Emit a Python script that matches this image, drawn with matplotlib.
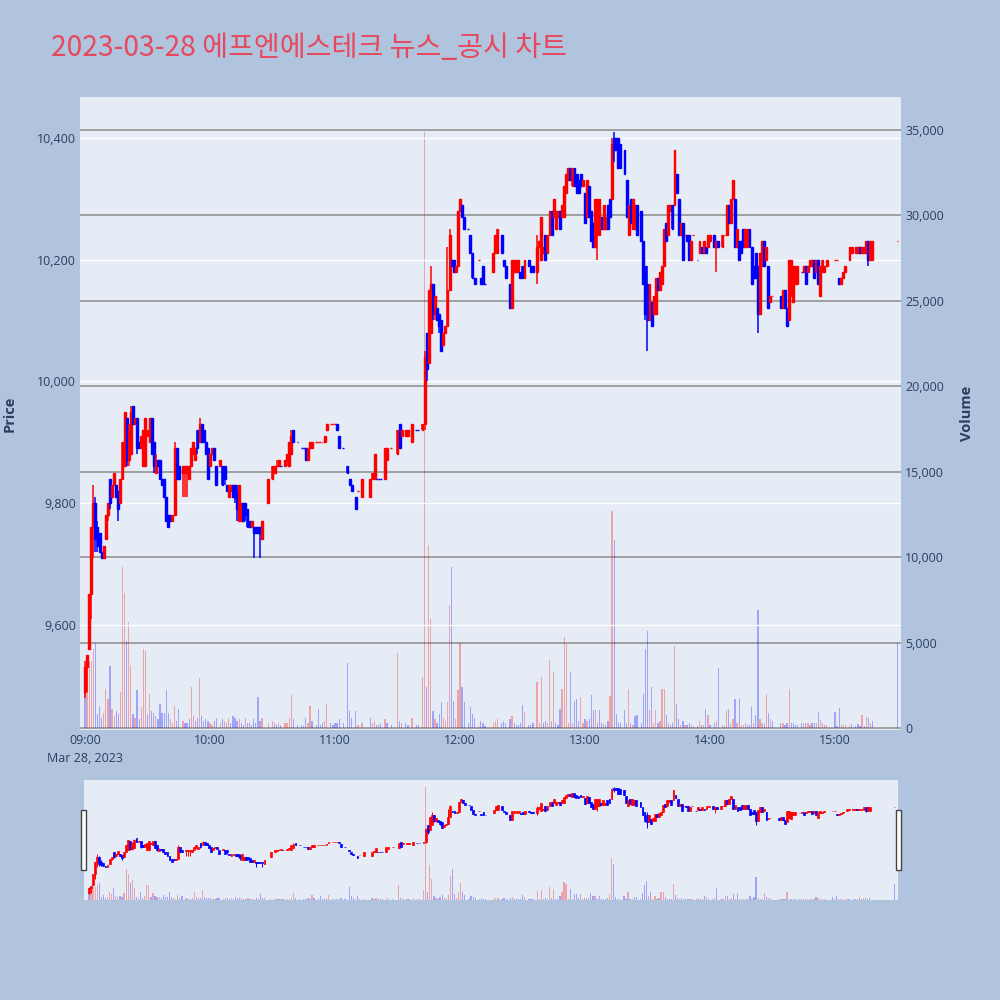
import numpy as np
import pandas as pd
import matplotlib.pyplot as plt
import matplotlib.dates as mdates
from matplotlib.patches import Rectangle
from matplotlib.ticker import StrMethodFormatter

# minute offset from 09:00 for each traded minute (390 = 15:30 closing auction)
minutes = (list(range(0, 46)) + list(range(47, 64))
           + list(range(65, 86)) + [88, 90, 91, 92, 93, 94, 96, 97, 98, 99, 100, 102, 104, 105, 106, 107, 108, 109,
                                    111, 112, 113, 114, 115, 116, 118, 119, 120, 121, 122, 124, 126, 127, 128, 130, 131]
           + [133, 137, 138, 139, 140, 141, 142, 144, 145, 147, 150, 151, 152, 154, 155, 157, 159, 160]
           + list(range(162, 183)) + [184, 185, 186, 187, 189, 190, 191, 192, 196, 197, 198]
           + [200, 201, 202] + list(range(204, 212)) + [213, 214, 215] + list(range(217, 258)) + list(range(259, 266))
           + list(range(267, 293)) + list(range(294, 301)) + [302, 303, 304] + list(range(306, 331))
           + list(range(334, 343)) + list(range(344, 357)) + list(range(360, 366)) + [367, 368]
           + list(range(370, 379)) + [390])

opens = [
    # 09:00 - 10:03
    9490, 9530, 9560, 9650, 9760, 9800, 9760, 9750, 9720, 9710,
    9740, 9780, 9840, 9810, 9830, 9830, 9820, 9800, 9840, 9860,
    9940, 9870, 9880, 9960, 9930, 9940, 9900, 9890, 9860, 9860,
    9910, 9900, 9940, 9900, 9850, 9870, 9870, 9840, 9840, 9810,
    9780, 9780, 9770, 9780, 9890, 9860,
    9850, 9850, 9850, 9840, 9860, 9880, 9870,
    9920, 9900, 9930, 9920, 9900, 9890, 9860, 9880, 9890, 9860,
    # 10:05 - 11:11
    9860, 9860, 9860, 9830, 9810, 9820, 9830, 9830, 9820, 9770,
    9770, 9800, 9800, 9790, 9770, 9760, 9760, 9760, 9760, 9760,
    9740, 9800, 9840, 9850, 9860, 9860, 9860,
    9860, 9870, 9860, 9880, 9920,
    9900, 9890, 9890, 9890, 9870, 9890, 9890,
    9900, 9900, 9900, 9900, 9900, 9920,
    9930, 9930, 9930, 9930, 9910,
    9890, 9860, 9840, 9830, 9810, 9820,
    # 11:13 - 12:18
    9810, 9810, 9840, 9840, 9840, 9840, 9840,
    9840, 9870, 9890, 9880, 9930, 9910,
    9910, 9910, 9900, 9920, 9920,
    9920, 9930, 10080, 10030, 10080, 10160, 10110, 10120, 10110, 10100,
    10060, 10080, 10090, 10150, 10200, 10200, 10180, 10190, 10280, 10290, 10270,
    10250, 10240, 10210, 10170,
    10200, 10170, 10190, 10160,
    10180, 10210, 10210,
    # 12:20 - 13:25
    10240, 10200, 10190,
    10160, 10120, 10180, 10180, 10180, 10180, 10190, 10170,
    10200, 10190, 10190,
    10180, 10220, 10200, 10210, 10240, 10210, 10240, 10280, 10270, 10250,
    10270, 10280, 10270, 10270, 10310, 10330, 10350, 10320, 10350, 10340,
    10330, 10340, 10320, 10310, 10270, 10320, 10280, 10260, 10220, 10240,
    10240, 10270, 10250, 10250, 10290, 10300, 10300, 10400, 10400, 10400, 10390,
    10380, 10330, 10240, 10300, 10250, 10250, 10290,
    # 13:27 - 14:30
    10280, 10230, 10190, 10160, 10100, 10130, 10110, 10110, 10170, 10150,
    10160, 10190, 10260, 10240, 10280, 10290, 10290, 10340, 10300, 10240,
    10260, 10240, 10240, 10240, 10200, 10240,
    10200, 10210, 10220, 10210, 10220, 10220, 10230,
    10240, 10220, 10230,
    10220, 10240, 10240, 10290, 10260, 10300, 10300, 10220, 10230, 10230,
    10250, 10220, 10220, 10250, 10220, 10190, 10210, 10190, 10110, 10190,
    10230, 10200, 10190, 10130, 10140,
    # 14:34 - 15:30
    10140, 10120, 10150, 10120, 10100, 10140, 10130, 10160, 10160,
    10180, 10180, 10190, 10180, 10190, 10190, 10200, 10180, 10200, 10140, 10180, 10180, 10190,
    10200, 10200, 10170, 10160, 10170, 10180,
    10200, 10210,
    10210, 10210, 10220, 10210, 10210, 10210, 10230, 10200, 10200,
    10230,
]

highs = [
    9540, 9550, 9650, 9760, 9830, 9810, 9770, 9750, 9720, 9730,
    9780, 9800, 9840, 9830, 9850, 9830, 9820, 9840, 9900, 9950,
    9940, 9930, 9960, 9960, 9940, 9940, 9900, 9910, 9920, 9940,
    9920, 9940, 9940, 9900, 9880, 9870, 9870, 9840, 9840, 9810,
    9780, 9780, 9780, 9900, 9890, 9860,
    9860, 9860, 9860, 9860, 9890, 9900, 9890,
    9920, 9940, 9930, 9920, 9900, 9890, 9880, 9890, 9890, 9860,
    9870, 9860, 9860, 9830, 9830, 9830, 9830, 9830, 9830, 9830,
    9800, 9800, 9800, 9790, 9770, 9770, 9760, 9760, 9760, 9760,
    9770, 9840, 9860, 9860, 9870, 9870, 9860,
    9870, 9880, 9900, 9920, 9920,
    9900, 9890, 9890, 9890, 9890, 9900, 9900,
    9900, 9900, 9900, 9900, 9910, 9930,
    9930, 9930, 9930, 9930, 9910,
    9890, 9860, 9840, 9830, 9810, 9820,
    9840, 9840, 9850, 9880, 9840, 9840, 9840,
    9890, 9890, 9890, 9920, 9930, 9920,
    9920, 9920, 9930, 9920, 9920,
    9930, 10050, 10080, 10150, 10190, 10160, 10140, 10120, 10110, 10100,
    10080, 10090, 10220, 10250, 10200, 10200, 10190, 10280, 10300, 10290, 10270,
    10250, 10240, 10210, 10170,
    10200, 10170, 10190, 10160,
    10210, 10240, 10250,
    10240, 10200, 10190,
    10160, 10200, 10200, 10200, 10200, 10180, 10190, 10200,
    10200, 10190, 10190,
    10240, 10230, 10270, 10220, 10240, 10240, 10280, 10280, 10300, 10280,
    10280, 10280, 10290, 10320, 10340, 10350, 10350, 10350, 10350, 10340,
    10330, 10340, 10330, 10310, 10330, 10320, 10280, 10260, 10300, 10300,
    10300, 10270, 10290, 10270, 10290, 10300, 10400, 10410, 10400, 10400, 10390,
    10380, 10330, 10290, 10300, 10300, 10290, 10290,
    10280, 10230, 10190, 10190, 10160, 10130, 10140, 10170, 10170, 10180,
    10190, 10250, 10260, 10290, 10290, 10290, 10380, 10340, 10300, 10260,
    10260, 10240, 10240, 10240, 10230, 10240,
    10200, 10230, 10220, 10230, 10220, 10240, 10240,
    10240, 10230, 10230,
    10240, 10240, 10290, 10290, 10300, 10330, 10300, 10250, 10230, 10230,
    10250, 10250, 10250, 10250, 10220, 10190, 10210, 10190, 10210, 10230,
    10230, 10220, 10190, 10140, 10140,
    10140, 10150, 10150, 10120, 10200, 10200, 10190, 10190, 10190,
    10180, 10190, 10190, 10190, 10200, 10200, 10200, 10200, 10200, 10190, 10200, 10190, 10200,
    10200, 10200, 10170, 10170, 10180, 10190,
    10220, 10220,
    10220, 10220, 10220, 10220, 10220, 10230, 10230, 10230, 10230,
    10230,
]

lows = [
    9480, 9490, 9560, 9610, 9710, 9720, 9720, 9720, 9710, 9710,
    9740, 9770, 9790, 9810, 9830, 9810, 9770, 9800, 9840, 9860,
    9860, 9860, 9880, 9930, 9930, 9880, 9890, 9890, 9860, 9860,
    9910, 9900, 9880, 9850, 9850, 9860, 9840, 9830, 9810, 9770,
    9760, 9770, 9770, 9780, 9840, 9840,
    9810, 9810, 9810, 9840, 9860, 9880, 9870,
    9880, 9900, 9900, 9900, 9880, 9840, 9860, 9880, 9870, 9830,
    9860, 9830, 9830, 9820, 9810, 9820, 9810, 9800, 9770, 9770,
    9770, 9770, 9770, 9760, 9760, 9760, 9710, 9750, 9750, 9710,
    9740, 9800, 9840, 9850, 9860, 9860, 9860,
    9860, 9860, 9860, 9880, 9900,
    9900, 9890, 9890, 9870, 9870, 9890, 9890,
    9900, 9900, 9900, 9900, 9900, 9920,
    9930, 9930, 9930, 9920, 9890,
    9890, 9850, 9830, 9820, 9790, 9820,
    9810, 9810, 9840, 9840, 9840, 9840, 9840,
    9840, 9870, 9890, 9880, 9890, 9910,
    9910, 9910, 9900, 9920, 9920,
    9920, 9920, 10000, 10030, 10080, 10100, 10100, 10100, 10080, 10050,
    10060, 10080, 10090, 10150, 10190, 10180, 10180, 10190, 10280, 10270, 10250,
    10250, 10210, 10170, 10160,
    10200, 10160, 10160, 10160,
    10180, 10210, 10210,
    10210, 10190, 10170,
    10120, 10120, 10180, 10180, 10180, 10170, 10170, 10170,
    10190, 10180, 10180,
    10160, 10220, 10200, 10210, 10200, 10210, 10240, 10240, 10270, 10250,
    10270, 10250, 10270, 10270, 10310, 10330, 10330, 10320, 10320, 10310,
    10310, 10320, 10320, 10260, 10270, 10270, 10230, 10220, 10220, 10200,
    10240, 10250, 10250, 10250, 10250, 10270, 10300, 10360, 10380, 10350, 10350,
    10340, 10270, 10240, 10260, 10250, 10250, 10240,
    10230, 10160, 10100, 10050, 10100, 10090, 10110, 10110, 10150, 10150,
    10160, 10190, 10230, 10240, 10280, 10250, 10290, 10310, 10240, 10240,
    10200, 10240, 10230, 10200, 10200, 10240,
    10200, 10210, 10210, 10210, 10210, 10220, 10230,
    10220, 10180, 10220,
    10220, 10240, 10240, 10260, 10260, 10300, 10220, 10220, 10200, 10210,
    10220, 10220, 10220, 10220, 10160, 10170, 10170, 10080, 10110, 10190,
    10190, 10200, 10120, 10130, 10140,
    10120, 10120, 10120, 10090, 10100, 10140, 10130, 10160, 10160,
    10180, 10180, 10160, 10180, 10190, 10190, 10170, 10180, 10160, 10140, 10180, 10180, 10190,
    10200, 10200, 10160, 10160, 10170, 10180,
    10200, 10210,
    10210, 10210, 10210, 10210, 10210, 10210, 10190, 10200, 10200,
    10230,
]

closes = [
    9530, 9550, 9650, 9760, 9800, 9740, 9730, 9720, 9710, 9730,
    9780, 9800, 9800, 9830, 9850, 9810, 9790, 9840, 9900, 9950,
    9870, 9920, 9950, 9930, 9940, 9890, 9890, 9910, 9920, 9940,
    9920, 9940, 9880, 9860, 9870, 9860, 9840, 9830, 9810, 9770,
    9760, 9770, 9780, 9890, 9840, 9840,
    9860, 9860, 9860, 9860, 9890, 9900, 9890,
    9890, 9930, 9900, 9900, 9880, 9840, 9880, 9890, 9870, 9830,
    9870, 9830, 9840, 9820, 9830, 9830, 9810, 9810, 9790, 9830,
    9800, 9770, 9780, 9760, 9760, 9770, 9750, 9750, 9750, 9750,
    9770, 9840, 9860, 9860, 9860, 9870, 9860,
    9870, 9880, 9900, 9910, 9900,
    9900, 9890, 9890, 9870, 9890, 9900, 9900,
    9900, 9900, 9900, 9900, 9910, 9930,
    9930, 9930, 9930, 9920, 9890,
    9890, 9850, 9830, 9820, 9790, 9820,
    9840, 9840, 9850, 9880, 9840, 9840, 9840,
    9890, 9890, 9890, 9920, 9890, 9920,
    9920, 9920, 9930, 9920, 9920,
    9930, 10040, 10020, 10150, 10160, 10110, 10140, 10100, 10090, 10050,
    10080, 10090, 10150, 10240, 10190, 10180, 10190, 10280, 10300, 10270, 10250,
    10250, 10210, 10170, 10160,
    10200, 10160, 10160, 10160,
    10210, 10240, 10250,
    10210, 10190, 10170,
    10120, 10200, 10200, 10200, 10200, 10170, 10170, 10200,
    10190, 10180, 10180,
    10220, 10230, 10270, 10220, 10200, 10240, 10280, 10240, 10300, 10280,
    10280, 10250, 10290, 10320, 10340, 10350, 10330, 10350, 10320, 10310,
    10310, 10320, 10330, 10260, 10330, 10270, 10230, 10220, 10300, 10300,
    10300, 10250, 10290, 10270, 10250, 10270, 10390, 10380, 10380, 10350, 10350,
    10340, 10270, 10290, 10260, 10300, 10290, 10240,
    10230, 10160, 10110, 10100, 10160, 10090, 10140, 10170, 10150, 10180,
    10190, 10250, 10230, 10290, 10290, 10250, 10380, 10310, 10240, 10260,
    10200, 10240, 10230, 10200, 10230, 10240,
    10200, 10230, 10210, 10230, 10210, 10240, 10240,
    10220, 10230, 10220,
    10240, 10240, 10290, 10260, 10300, 10330, 10220, 10250, 10200, 10210,
    10220, 10250, 10250, 10220, 10160, 10170, 10170, 10110, 10210, 10230,
    10190, 10220, 10120, 10140, 10140,
    10120, 10150, 10120, 10090, 10200, 10200, 10190, 10190, 10190,
    10180, 10190, 10160, 10190, 10200, 10200, 10170, 10200, 10160, 10190, 10200, 10190, 10200,
    10200, 10200, 10160, 10170, 10180, 10190,
    10220, 10220,
    10220, 10220, 10210, 10220, 10220, 10230, 10200, 10230, 10230,
    10230,
]

volumes = [
    2500, 3600, 3900, 3900, 4600, 5000, 800, 1300, 600, 900,
    2300, 1700, 3600, 1100, 700, 1000, 800, 2100, 9400, 7900,
    5100, 6200, 3700, 800, 600, 2200, 500, 1200, 4600, 4500,
    800, 2000, 1000, 900, 700, 500, 1400, 900, 900, 2200,
    900, 500, 300, 1300, 400, 1100,
    400, 300, 300, 500, 2400, 700, 400,
    600, 2900, 700, 400, 500, 400, 300, 200, 400, 600,
    300, 500, 400, 300, 600, 300, 700, 600, 400, 500,
    300, 200, 600, 300, 300, 200, 500, 300, 1800, 400,
    600, 300, 400, 300, 200, 300, 200,
    300, 300, 600, 1900, 500,
    200, 200, 100, 600, 300, 1300, 400,
    200, 1100, 200, 300, 400, 1400,
    300, 200, 300, 300, 500,
    300, 3800, 1000, 600, 1000, 200,
    300, 600, 300, 400, 200, 200, 300,
    500, 300, 200, 4400, 400, 300,
    300, 200, 600, 200, 200,
    3000, 34900, 2400, 10700, 6400, 1000, 500, 300, 800, 1500,
    600, 400, 1500, 7200, 9400, 1600, 500, 2200, 5000, 2400, 1500,
    300, 1200, 800, 600,
    100, 400, 300, 100,
    300, 400, 500,
    300, 400, 300,
    500, 700, 300, 200, 200, 300, 1350, 960,
    200, 200, 300,
    2700, 300, 3000, 300, 400, 300, 4000, 400, 3300, 300,
    200, 1100, 2300, 5300, 4900, 300, 3300, 300, 1600, 1700,
    400, 1800, 300, 500, 400, 500, 1950, 1060, 1060, 300,
    1060, 300, 300, 200, 400, 1860, 12700, 11000, 800, 300, 300,
    1060, 300, 2300, 300, 200, 700, 750,
    300, 2000, 4600, 5700, 1060, 2400, 300, 1060, 300, 400,
    2300, 2300, 780, 300, 200, 300, 4800, 1400, 550, 200,
    430, 200, 200, 300, 200, 100,
    100, 430, 200, 200, 1130, 730, 200,
    300, 400, 3480,
    200, 100, 1060, 1100, 300, 550, 1680, 300, 1720, 200,
    200, 300, 200, 200, 1210, 300, 770, 6920, 510, 300,
    240, 2010, 900, 510, 430,
    300, 300, 200, 300, 2290, 300, 300, 200, 200,
    300, 300, 300, 300, 200, 300, 300, 300, 920, 490, 300, 200, 200,
    960, 100, 1190, 200, 200, 200,
    100, 240,
    140, 240, 140, 770, 100, 630, 590, 300, 380,
    4960,
]

base = pd.Timestamp('2023-03-28 09:00')
df = pd.DataFrame({'open': opens, 'high': highs, 'low': lows, 'close': closes, 'volume': volumes},
                  index=base + pd.to_timedelta(minutes, unit='min'))

# candle direction: close vs open, doji falls back to previous close / previous direction
up = []
prev_c, prev_up = None, True
for o, c in zip(df['open'], df['close']):
    if c != o:
        d = c > o
    elif prev_c is not None and c != prev_c:
        d = c > prev_c
    else:
        d = prev_up
    up.append(d)
    prev_c, prev_up = c, d
df['up'] = up
df['vol_up'] = df['close'] > df['close'].shift(1)

RED, BLUE = '#ff0000', '#0000ff'
TXT = '#2a3f5f'
plt.rcParams['font.family'] = ['Open Sans', 'DejaVu Sans']

x_lo = base + pd.Timedelta(minutes=-2.4)
x_hi = base + pd.Timedelta(minutes=391.7)
price_lim = (9427, 10467)
vol_lim = (-120, 36930)
one_min = 1 / 1440


def draw(ax_p, ax_v, wick_lw, body_lw, body_w):
    c = np.where(df['up'], RED, BLUE)
    vc = np.where(df['vol_up'], RED, BLUE)
    ax_v.bar(df.index, df['volume'], width=0.6 * one_min, color=vc, alpha=0.3, linewidth=0)
    ax_p.vlines(df.index, df['low'], df['high'], colors=c, lw=wick_lw)
    ax_p.bar(df.index, (df['close'] - df['open']).abs(), bottom=df[['open', 'close']].min(axis=1),
             width=body_w * one_min, color=c, edgecolor=c, linewidth=body_lw)
    for a in (ax_p, ax_v):
        for s in a.spines.values():
            s.set_visible(False)
    ax_p.set_ylim(price_lim)
    ax_v.set_ylim(vol_lim)
    ax_v.set_xlim(x_lo, x_hi)


fig = plt.figure(figsize=(10, 10), dpi=100, facecolor='#b0c4de')

# main chart: volume axis underneath (right ticks), price axis on top (left ticks)
ax_vol = fig.add_axes([0.080, 0.270, 0.821, 0.633], facecolor='#e5ecf6')
ax = ax_vol.twinx()
draw(ax, ax_vol, 1.1, 1.0, 0.9)

ax_vol.yaxis.tick_right()
ax_vol.set_yticks(range(0, 35001, 5000))
ax_vol.yaxis.set_major_formatter(StrMethodFormatter('{x:,.0f}'))
ax_vol.grid(axis='y', color='#999999', lw=1.3)
ax_vol.set_axisbelow(True)
ax_vol.axhline(0, color='white', lw=1.6, zorder=0.5)

ax.yaxis.tick_left()
ax.set_yticks(range(9600, 10401, 200))
ax.yaxis.set_major_formatter(StrMethodFormatter('{x:,.0f}'))
ax.grid(axis='y', color='white', lw=1.0)
ax.set_axisbelow(True)

ax_vol.xaxis.set_major_locator(mdates.HourLocator())
ax_vol.xaxis.set_major_formatter(mdates.DateFormatter('%H:%M'))
for a in (ax, ax_vol):
    a.tick_params(length=0, labelsize=9, labelcolor=TXT, pad=3)

fig.text(0.085, 0.242, 'Mar 28, 2023', ha='center', va='center', fontsize=9, color=TXT)
fig.text(0.010, 0.5865, 'Price', rotation=90, ha='center', va='center', fontsize=10.5,
         fontweight='bold', color=TXT)
fig.text(0.967, 0.5865, 'Volume', rotation=90, ha='center', va='center', fontsize=10.5,
         fontweight='bold', color=TXT)

fig.text(0.051, 0.944, '2023-03-28 에프엔에스테크 뉴스_공시 차트', fontsize=20.3, color='#e8485e',
         family=['Noto Sans CJK KR', 'DejaVu Sans'], va='baseline')

# range slider preview
ax_rs_v = fig.add_axes([0.084, 0.100, 0.814, 0.120], facecolor='#e5ecf6')
ax_rs = ax_rs_v.twinx()
draw(ax_rs, ax_rs_v, 0.7, 0.5, 0.9)
for a in (ax_rs, ax_rs_v):
    a.set_xticks([])
    a.set_yticks([])

for hx in (0.081, 0.896):
    fig.add_artist(Rectangle((hx, 0.130), 0.005, 0.060, transform=fig.transFigure,
                             facecolor='white', edgecolor='#444444', lw=1))

fig.savefig('out.png', dpi=100, facecolor=fig.get_facecolor())
